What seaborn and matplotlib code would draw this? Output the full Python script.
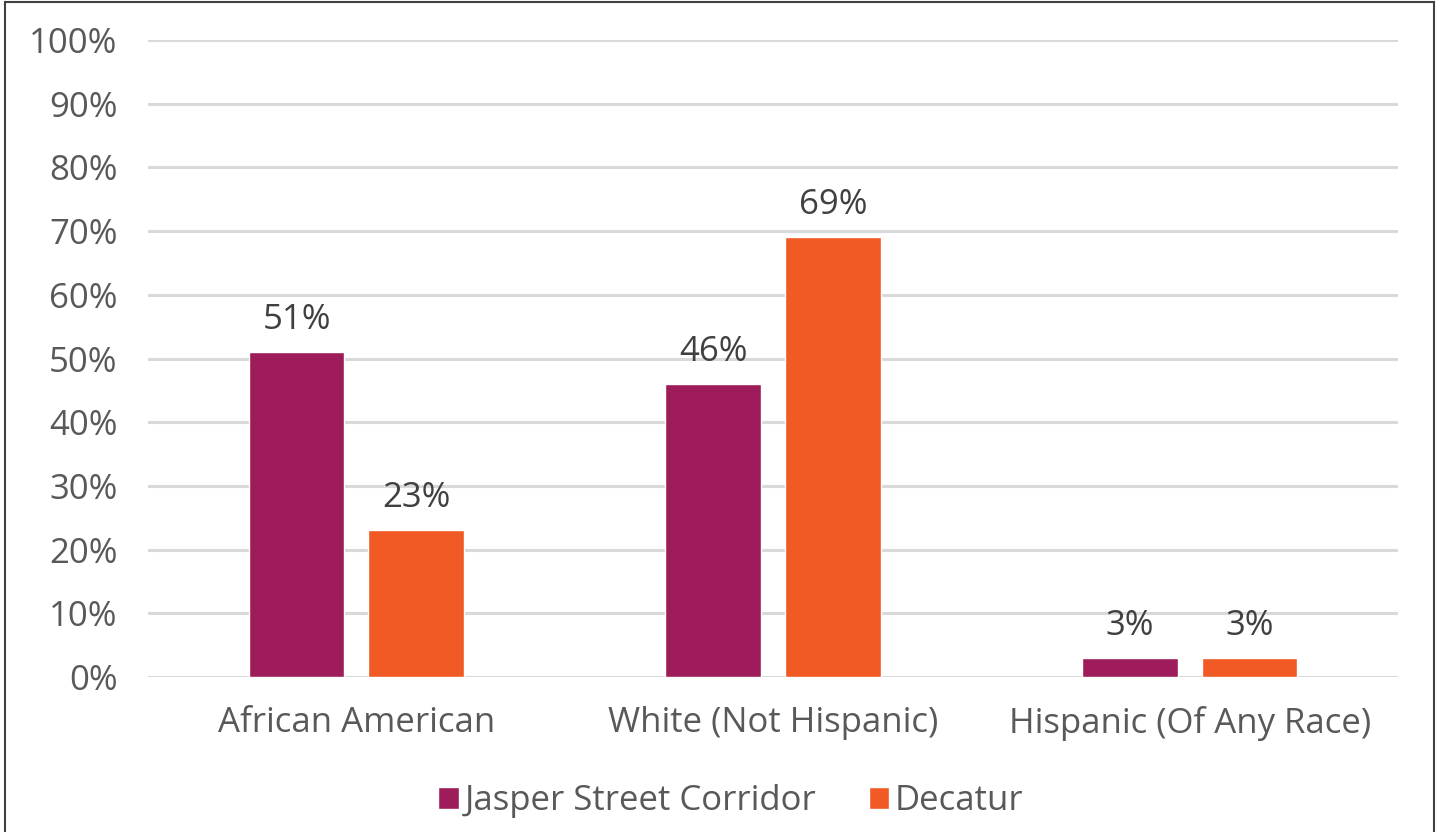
import matplotlib
matplotlib.use("Agg")
import matplotlib.pyplot as plt
import seaborn as sns
import pandas as pd
from matplotlib.patches import Rectangle

categories = ["African American", "White (Not Hispanic)", "Hispanic (Of Any Race)"]
series_names = ["Jasper Street Corridor", "Decatur"]
jasper = [51, 46, 3]
decatur = [23, 69, 3]
yticks = [0, 10, 20, 30, 40, 50, 60, 70, 80, 90, 100]

colors = ["#9E1C5A", "#F15A24"]
text_color = "#595959"

df = pd.DataFrame({
    "category": categories * 2,
    "series": [series_names[0]] * 3 + [series_names[1]] * 3,
    "value": jasper + decatur,
})

sns.set_theme(style="white")
plt.rcParams["font.family"] = ["Open Sans", "DejaVu Sans"]

W, H = 1439, 832
fs = 25
fig = plt.figure(figsize=(W / 100, H / 100), dpi=100)
ax = fig.add_axes([148 / W, 1 - 677 / H, (1398 - 148) / W, (677 - 40) / H])

sns.barplot(data=df, x="category", y="value", hue="series", order=categories,
            hue_order=series_names, palette=colors, width=0.574, gap=0.2,
            ax=ax, legend=True, saturation=1)

ax.set_xlim(-0.5, 2.5)
ax.set_ylim(0, 100)
ax.set_yticks(yticks)
ax.set_yticklabels([f"{v}%" for v in yticks])
ax.yaxis.grid(True, color="#D9D9D9", linewidth=2.2, zorder=0)
ax.set_axisbelow(True)
for s in ax.spines.values():
    s.set_visible(False)
ax.tick_params(axis="y", length=0, pad=22, labelsize=fs, labelcolor=text_color)
ax.tick_params(axis="x", length=0, pad=21, labelsize=fs, labelcolor=text_color)
ax.set_xlabel("")
ax.set_ylabel("")

for cont in ax.containers:
    ax.bar_label(cont, labels=[f"{int(round(v))}%" for v in cont.datavalues],
                 padding=11, fontsize=fs, color="#404040")

handles, labels = ax.get_legend_handles_labels()
ax.legend(handles, labels, loc="center", bbox_to_anchor=(731 / W, 1 - 801 / H),
          bbox_transform=fig.transFigure, ncol=2, frameon=False,
          prop={"size": fs},
          labelcolor=text_color, handlelength=0.58, handleheight=0.58,
          handletextpad=0.18, columnspacing=1.5)

fig.patches.append(Rectangle((5 / W, -0.1), (1434 - 5) / W, 1.1 - 2 / H,
                             transform=fig.transFigure, fill=False,
                             edgecolor="#404040", linewidth=1.5))

fig.savefig("out.png", dpi=100, facecolor="white")
